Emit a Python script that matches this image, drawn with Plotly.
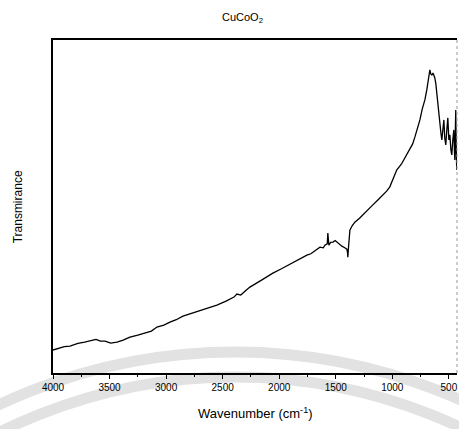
import plotly.graph_objects as go

# Wavenumber (cm^-1) and transmittance (arbitrary units, 0-100)
wavenumber = [4000, 3950, 3900, 3850, 3780, 3720, 3673, 3620, 3580, 3540, 3490, 3434, 3380, 3320,
              3250, 3187, 3130, 3081, 3020, 2966, 2910, 2851, 2780, 2701, 2630, 2551, 2470,
              2400, 2374, 2340, 2300, 2259, 2160, 2056, 1980, 1905, 1830, 1755, 1720, 1684,
              1640, 1610, 1596, 1575, 1570, 1565, 1561, 1545, 1525, 1505, 1490, 1470, 1446,
              1420, 1402, 1396, 1393, 1389, 1384, 1375, 1355, 1331, 1290, 1243, 1210, 1172,
              1130, 1084, 1050, 1022, 990, 960, 920, 889, 845, 820, 800, 775, 756, 735, 712,
              695, 680, 668, 660, 650, 640, 624, 615, 606, 595, 580, 570, 562, 553, 544, 536,
              527, 518, 509, 500, 491, 482, 474, 465, 456, 450, 447, 443, 439, 434, 430]
transmittance = [6.9, 7.5, 7.9, 8.1, 8.9, 9.3, 9.6, 10.1, 9.6, 9.6, 9.0, 9.3, 9.9, 10.8,
                 11.4, 12.0, 12.6, 13.8, 14.4, 15.3, 16.0, 17.1, 17.9, 18.9, 19.5, 20.4, 21.6,
                 22.8, 23.7, 23.4, 24.6, 25.8, 27.8, 30.0, 31.3, 32.7, 34.0, 35.4, 35.8, 36.6,
                 37.8, 37.6, 38.4, 38.8, 42.0, 40.0, 38.4, 39.2, 39.3, 39.8, 39.3, 38.8, 38.1,
                 37.6, 37.2, 36.2, 34.8, 37.0, 39.9, 42.9, 44.2, 45.3, 46.5, 48.0, 49.0, 50.5,
                 51.9, 53.5, 54.6, 55.9, 58.3, 61.0, 62.7, 64.6, 67.0, 68.8, 70.9, 73.6, 76.0,
                 79.3, 82.0, 85.0, 88.3, 91.0, 89.8, 89.5, 90.1, 88.6, 86.8, 83.5, 79.0, 73.9,
                 72.0, 70.0, 74.0, 76.0, 70.5, 68.5, 73.0, 76.6, 70.0, 71.5, 67.0, 65.5, 70.0,
                 73.0, 66.0, 64.0, 72.0, 79.0, 66.0, 61.0]

x_ticks = [4000, 3500, 3000, 2500, 2000, 1500, 1000, 500]
x_tick_text = ["4000", "3500", "3000", "2500", "2000", "1500", "1000", "500"]

fig = go.Figure()
fig.add_trace(go.Scatter(x=wavenumber, y=transmittance, mode="lines",
                         line=dict(color="black", width=1.3), showlegend=False))

font = "Liberation Sans, Arial, sans-serif"

fig.update_layout(
    width=459, height=429,
    margin=dict(l=53, r=2, t=40, b=56),
    paper_bgcolor="white", plot_bgcolor="rgba(0,0,0,0)",
    font=dict(family=font, color="black"),
    xaxis=dict(range=[4000, 428], tickvals=x_ticks, ticktext=x_tick_text,
               ticks="outside", ticklen=4, tickwidth=1.3, tickcolor="black",
               minor=dict(dtick=250, tick0=0, ticks="outside", ticklen=2, tickcolor="black"),
               showline=True, linecolor="black", linewidth=1.5, mirror=True,
               showgrid=False, zeroline=False, tickfont=dict(size=10, family=font)),
    yaxis=dict(range=[0, 100], showticklabels=False, ticks="", showline=True,
               linecolor="black", linewidth=1.5, mirror=False,
               showgrid=False, zeroline=False),
    shapes=[
        dict(type="circle", xref="paper", yref="paper", layer="below",
             x0=-0.921, x1=1.822, y0=-3.264, y1=0.0631,
             line=dict(color="#e2e2e2", width=11)),
        dict(type="circle", xref="paper", yref="paper", layer="below",
             x0=-0.859, x1=1.760, y0=-3.189, y1=-0.012,
             line=dict(color="#e2e2e2", width=11)),
        dict(type="line", xref="paper", yref="paper", x0=1, x1=1, y0=0, y1=1,
             line=dict(color="#999999", width=1, dash="dot")),
    ],
    annotations=[
        dict(text="CuCoO<sub>2</sub>", xref="paper", yref="paper", x=0.47, y=1.066,
             showarrow=False, font=dict(size=11, family=font), xanchor="center", yanchor="middle"),
        dict(text="Wavenumber (cm<sup>-1</sup>)", xref="paper", yref="paper", x=0.5, y=-0.12,
             showarrow=False, font=dict(size=13, family=font), xanchor="center", yanchor="middle"),
        dict(text="Transmirance", xref="paper", yref="paper", x=-0.087, y=0.5, textangle=-90,
             showarrow=False, font=dict(size=12, family=font), xanchor="center", yanchor="middle"),
    ],
)

fig.write_html("out.html")
